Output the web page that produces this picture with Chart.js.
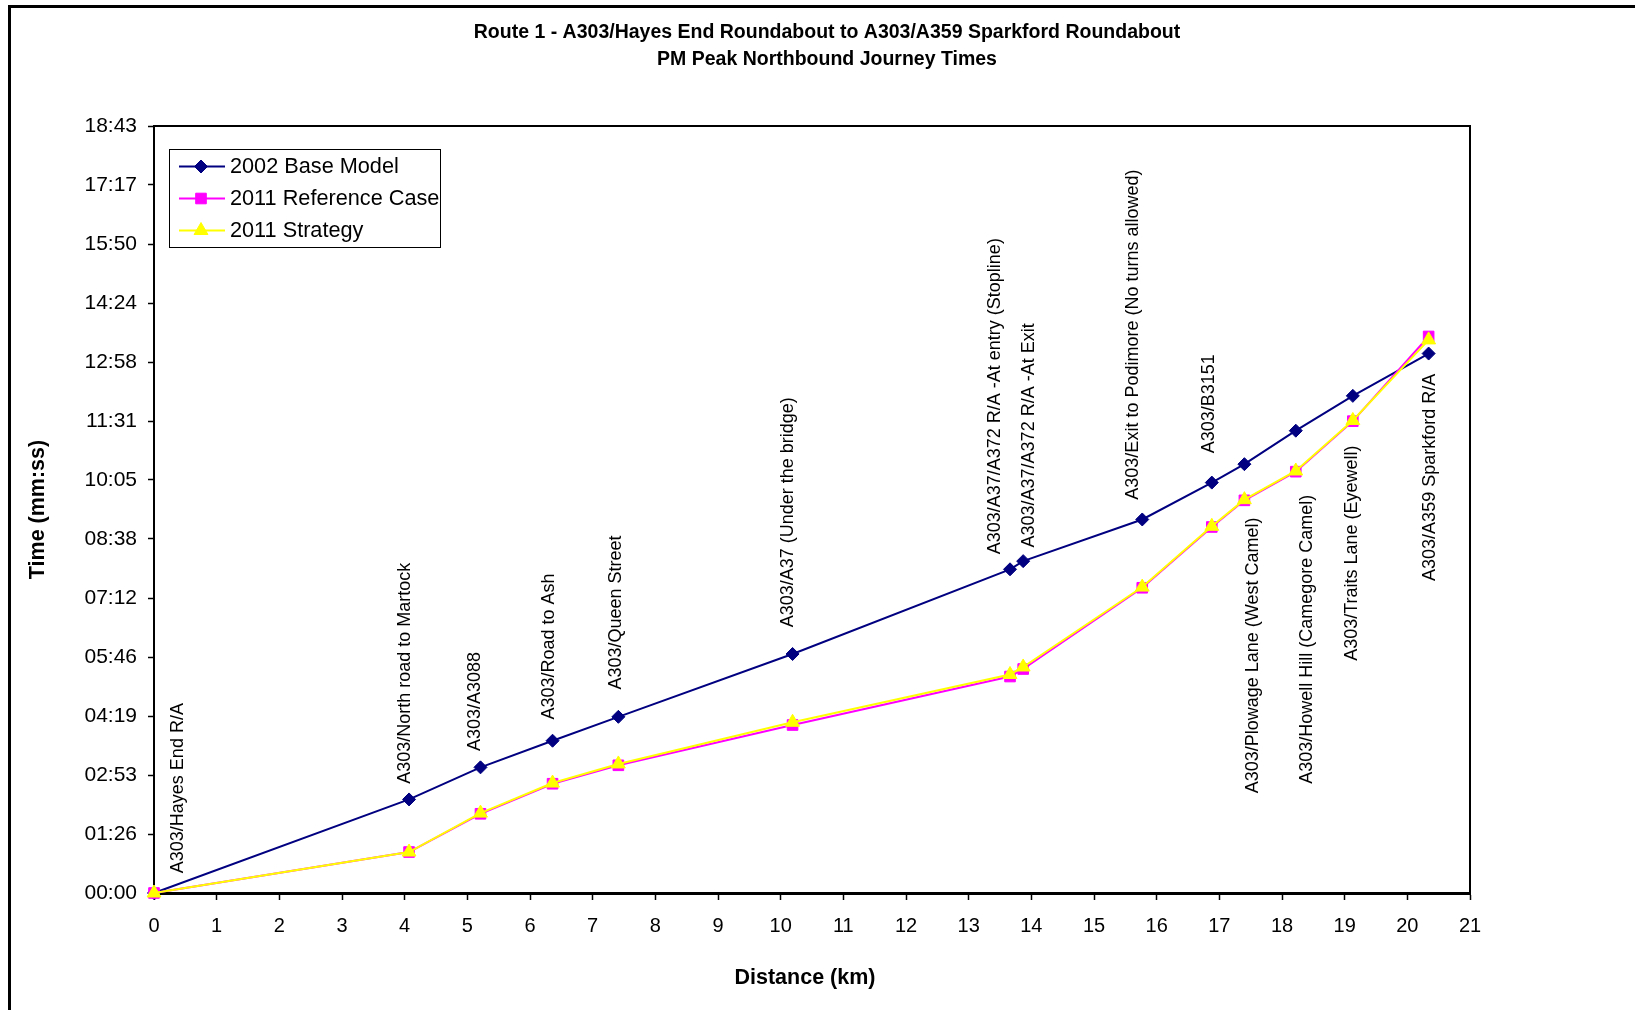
<!DOCTYPE html>
<html>
<head>
<meta charset="utf-8">
<title>Route 1 - PM Peak Northbound Journey Times</title>
<script src="https://cdn.jsdelivr.net/npm/chart.js@4/dist/chart.umd.min.js"></script>
<style>
  html, body { margin: 0; padding: 0; background: #fff; overflow: hidden; }
  #chart { display: block; }
</style>
</head>
<body>
<canvas id="chart" width="1635" height="1010"></canvas>
<script>
const FONT = "'Liberation Sans', Arial, Helvetica, sans-serif";

// distance along the route (km)
const distances = [0, 4.07, 5.21, 6.36, 7.41, 10.19, 13.66, 13.87, 15.77, 16.88, 17.40, 18.22, 19.13, 20.34];

// cumulative journey time (seconds)
const baseModel2002 = [0, 137, 184, 223, 258, 350, 474, 486, 547, 601, 628, 677, 728, 790];
const referenceCase2011 = [0, 60, 116, 160, 187, 246, 317, 328, 447, 536, 575, 617, 691, 815];
const strategy2011 = [0, 60, 117, 161, 189, 250, 320, 331, 448, 537, 576, 618, 692, 810];

// junction labels, and where each one sits (km along, seconds up)
const junctions = [
  "A303/Hayes End R/A",
  "A303/North road to Martock",
  "A303/A3088",
  "A303/Road to Ash",
  "A303/Queen Street",
  "A303/A37 (Under the bridge)",
  "A303/A37/A372 R/A -At entry (Stopline)",
  "A303/A37/A372 R/A -At Exit",
  "A303/Exit to Podimore (No turns allowed)",
  "A303/B3151",
  "A303/Plowage Lane (West Camel)",
  "A303/Howell Hill (Camegore Camel)",
  "A303/Traits Lane (Eyewell)",
  "A303/A359 Sparkford R/A"
];
const labelKm = [0.39, 4.00, 5.12, 6.30, 7.38, 10.12, 13.42, 13.97, 15.62, 16.83, 17.53, 18.40, 19.12, 20.36];
const labelSec = [29, 160, 208, 254, 298, 389, 496, 506, 576, 644, 146, 160, 340, 457];

// y axis: Excel time axis, major unit 0.001 day
const yStep = 86.4;
const yTickLabels = ["00:00", "01:26", "02:53", "04:19", "05:46", "07:12", "08:38",
  "10:05", "11:31", "12:58", "14:24", "15:50", "17:17", "18:43"];

const toPoints = values => values.map((v, i) => ({ x: distances[i], y: v }));

// outer frame, plot border, titles
const framePlugin = {
  id: "frame",
  beforeDraw(chart) {
    const { ctx, width, height } = chart;
    ctx.save();
    ctx.fillStyle = "#fff";
    ctx.fillRect(0, 0, width, height);
    ctx.strokeStyle = "#000";
    ctx.lineWidth = 3;
    ctx.beginPath();
    ctx.moveTo(width, 6.5);
    ctx.lineTo(9.5, 6.5);
    ctx.lineTo(9.5, height);
    ctx.stroke();
    ctx.restore();
  },
  afterDraw(chart) {
    const { ctx, chartArea: a } = chart;
    ctx.save();
    ctx.strokeStyle = "#000";
    ctx.lineWidth = 2;
    ctx.beginPath();
    ctx.moveTo(a.left, a.top);
    ctx.lineTo(a.right, a.top);
    ctx.lineTo(a.right, a.bottom);
    ctx.stroke();

    ctx.fillStyle = "#000";
    ctx.textAlign = "center";
    ctx.textBaseline = "middle";
    ctx.font = "bold 19.5px " + FONT;
    ctx.fillText("Route 1 - A303/Hayes End Roundabout to A303/A359 Sparkford Roundabout", 827, 32.5);
    ctx.fillText("PM Peak Northbound Journey Times", 827, 59.5);

    // x axis title sits a little left of the plot centre in the original
    ctx.font = "bold 21.5px " + FONT;
    ctx.fillText("Distance (km)", 805, 978);
    ctx.restore();
  }
};

// vertical junction names
const junctionLabels = {
  id: "junctionLabels",
  afterDatasetsDraw(chart) {
    const { ctx, scales: { x, y } } = chart;
    ctx.save();
    ctx.fillStyle = "#000";
    ctx.font = "18px " + FONT;
    ctx.textAlign = "left";
    ctx.textBaseline = "middle";
    junctions.forEach((name, i) => {
      ctx.save();
      ctx.translate(x.getPixelForValue(labelKm[i]), y.getPixelForValue(labelSec[i]));
      ctx.rotate(-Math.PI / 2);
      ctx.fillText(name, 0, 0);
      ctx.restore();
    });
    ctx.restore();
  }
};

// boxed legend in the top-left of the plot
const boxLegend = {
  id: "boxLegend",
  afterDraw(chart) {
    const { ctx } = chart;
    const rows = [166.5, 198.5, 230.5];
    ctx.save();
    ctx.fillStyle = "#fff";
    ctx.fillRect(169.5, 149.5, 271, 98);
    ctx.strokeStyle = "#000";
    ctx.lineWidth = 1;
    ctx.strokeRect(169.5, 149.5, 271, 98);

    chart.data.datasets.forEach((ds, i) => {
      const yy = rows[i];
      ctx.strokeStyle = ds.borderColor;
      ctx.lineWidth = ds.borderWidth;
      ctx.beginPath();
      ctx.moveTo(179, yy);
      ctx.lineTo(225, yy);
      ctx.stroke();
      ctx.fillStyle = ds.pointBackgroundColor;
      ctx.strokeStyle = ds.pointBorderColor;
      ctx.lineWidth = 1;
      Chart.helpers.drawPoint(ctx, { pointStyle: ds.pointStyle, radius: ds.pointRadius, borderWidth: 1 }, 201, yy);
      ctx.fillStyle = "#000";
      ctx.font = "21.7px " + FONT;
      ctx.textAlign = "left";
      ctx.textBaseline = "middle";
      ctx.fillText(ds.label, 230, yy + 1);
    });
    ctx.restore();
  }
};

const chart = new Chart(document.getElementById("chart"), {
  type: "line",
  data: {
    datasets: [
      {
        label: "2002 Base Model",
        data: toPoints(baseModel2002),
        borderColor: "#000080",
        borderWidth: 2,
        pointStyle: "rectRot",
        pointRadius: 6.5,
        pointBackgroundColor: "#000080",
        pointBorderColor: "#000080",
        pointBorderWidth: 1,
        order: 3
      },
      {
        label: "2011 Reference Case",
        data: toPoints(referenceCase2011),
        borderColor: "#FF00FF",
        borderWidth: 2,
        pointStyle: "rect",
        pointRadius: 7.5,
        pointBackgroundColor: "#FF00FF",
        pointBorderColor: "#FF00FF",
        pointBorderWidth: 1,
        order: 2
      },
      {
        label: "2011 Strategy",
        data: toPoints(strategy2011),
        borderColor: "#FFFF00",
        borderWidth: 2,
        pointStyle: "triangle",
        pointRadius: 8,
        pointBackgroundColor: "#FFFF00",
        pointBorderColor: "#FFFF00",
        pointBorderWidth: 1,
        order: 1
      }
    ]
  },
  options: {
    responsive: false,
    animation: false,
    devicePixelRatio: 1,
    events: [],
    clip: false,
    layout: {
      autoPadding: false,
      padding: { left: 0, top: 126, right: 165, bottom: 0 }
    },
    elements: { line: { tension: 0, fill: false } },
    plugins: {
      legend: { display: false },
      title: { display: false },
      tooltip: { enabled: false }
    },
    scales: {
      x: {
        type: "linear",
        min: 0,
        max: 21,
        afterFit(scale) { scale.height = 117; },
        ticks: {
          stepSize: 1,
          autoSkip: false,
          maxRotation: 0,
          padding: 14,
          color: "#000",
          font: { family: FONT, size: 20 }
        },
        grid: {
          drawOnChartArea: false,
          drawTicks: true,
          tickLength: 7,
          tickWidth: 1.5,
          tickColor: "#000"
        },
        border: { display: true, color: "#000", width: 3 },
        title: { display: false }
      },
      y: {
        type: "linear",
        min: 0,
        max: yStep * (yTickLabels.length - 1),
        afterFit(scale) { scale.width = 154; },
        afterBuildTicks(scale) {
          scale.ticks = yTickLabels.map((t, i) => ({ value: i * yStep }));
        },
        ticks: {
          padding: 11,
          color: "#000",
          font: { family: FONT, size: 21 },
          callback: (v, i) => yTickLabels[i]
        },
        grid: {
          drawOnChartArea: false,
          drawTicks: true,
          tickLength: 6,
          tickWidth: 1.5,
          tickColor: "#000"
        },
        border: { display: true, color: "#000", width: 2 },
        title: {
          display: true,
          text: "Time (mm:ss)",
          color: "#000",
          font: { family: FONT, size: 21.5, weight: "bold" },
          padding: { top: 25.5, bottom: 0 }
        }
      }
    }
  },
  plugins: [framePlugin, junctionLabels, boxLegend]
});
</script>
</body>
</html>
